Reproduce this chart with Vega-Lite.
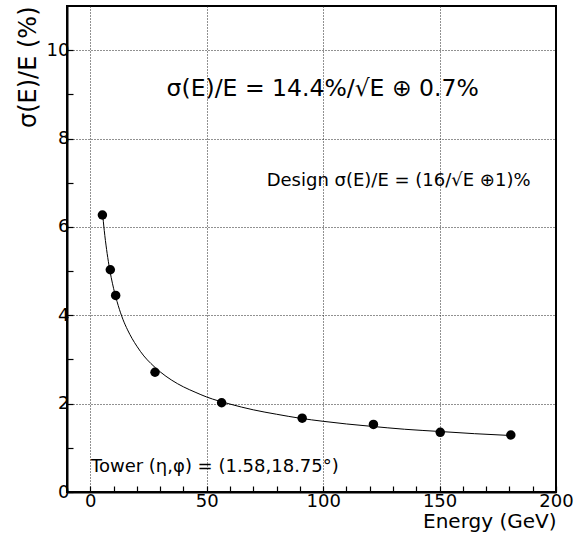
{
  "$schema": "https://vega.github.io/schema/vega-lite/v6.json",
  "autosize": {"type": "none"},
  "padding": {"left": 67, "top": 6, "right": 19, "bottom": 54},
  "width": 489,
  "height": 486,
  "background": "white",
  "config": {
    "font": "DejaVu Sans",
    "view": {"stroke": "black", "strokeWidth": 2}
  },
  "datasets": {
    "fit": [
      {"E": 5.2, "v": 6.35}, {"E": 6, "v": 5.92}, {"E": 7, "v": 5.49}, {"E": 8, "v": 5.14},
      {"E": 9, "v": 4.85}, {"E": 10, "v": 4.61}, {"E": 12, "v": 4.22}, {"E": 14, "v": 3.91},
      {"E": 16, "v": 3.67}, {"E": 18, "v": 3.47}, {"E": 20, "v": 3.3}, {"E": 23, "v": 3.08},
      {"E": 26, "v": 2.91}, {"E": 30, "v": 2.72}, {"E": 35, "v": 2.53}, {"E": 40, "v": 2.38},
      {"E": 45, "v": 2.26}, {"E": 50, "v": 2.15}, {"E": 60, "v": 1.99}, {"E": 70, "v": 1.86},
      {"E": 80, "v": 1.76}, {"E": 90, "v": 1.67}, {"E": 100, "v": 1.6}, {"E": 110, "v": 1.54},
      {"E": 120, "v": 1.49}, {"E": 135, "v": 1.42}, {"E": 150, "v": 1.37}, {"E": 165, "v": 1.32},
      {"E": 180, "v": 1.28}
    ],
    "meas": [
      {"E": 5.2, "v": 6.27}, {"E": 8.6, "v": 5.03}, {"E": 10.9, "v": 4.45},
      {"E": 27.8, "v": 2.71}, {"E": 56.4, "v": 2.02}, {"E": 91, "v": 1.67},
      {"E": 121.6, "v": 1.53}, {"E": 150.3, "v": 1.35}, {"E": 180.6, "v": 1.29}
    ],
    "main": [{"E": 99.8, "v": 8.96, "label": "σ(E)/E = 14.4%/√E ⊕ 0.7%"}],
    "design": [{"E": 132.4, "v": 6.93, "label": "Design σ(E)/E = (16/√E ⊕1)%"}],
    "tower": [{"E": 0.3, "v": 0.46, "label": "Tower (η,φ) = (1.58,18.75°)"}]
  },
  "encoding": {
    "x": {
      "field": "E", "type": "quantitative",
      "scale": {"domain": [-10, 200], "nice": false, "zero": false},
      "axis": {
        "title": "Energy (GeV)", "titleAnchor": "end", "titleFont": "DejaVu Sans",
        "titleFontSize": 20, "titleFontWeight": "normal", "titleColor": "black", "titlePadding": 1,
        "values": [0, 10, 20, 30, 40, 50, 60, 70, 80, 90, 100, 110, 120, 130, 140, 150, 160, 170, 180, 190, 200],
        "labelExpr": "datum.value % 50 === 0 ? datum.label : ''",
        "labelFont": "DejaVu Sans", "labelFontSize": 18, "labelColor": "black", "labelPadding": 6,
        "labelFlush": false, "labelOverlap": false,
        "tickSize": -6, "tickColor": "black", "tickWidth": 1.2,
        "grid": true, "gridDash": [1, 2], "gridColor": "#222", "gridWidth": 1,
        "gridOpacity": {"condition": {"test": "datum.value % 50 === 0 && datum.value < 200", "value": 1}, "value": 0},
        "domainColor": "black", "domainWidth": 2
      }
    },
    "y": {
      "field": "v", "type": "quantitative",
      "scale": {"domain": [0, 11], "nice": false, "zero": false},
      "axis": {
        "title": "σ(E)/E (%)", "titleAnchor": "end", "titleFont": "DejaVu Sans",
        "titleFontSize": 24, "titleFontWeight": "normal", "titleColor": "black", "titlePadding": 6,
        "values": [0, 1, 2, 3, 4, 5, 6, 7, 8, 9, 10],
        "labelExpr": "datum.value % 2 === 0 ? datum.label : ''",
        "labelFont": "DejaVu Sans", "labelFontSize": 18, "labelColor": "black", "labelPadding": 4,
        "labelFlush": false, "labelOverlap": false,
        "tickSize": -6, "tickColor": "black", "tickWidth": 1.2,
        "grid": true, "gridDash": [1, 2], "gridColor": "#222", "gridWidth": 1,
        "gridOpacity": {"condition": {"test": "datum.value % 2 === 0 && datum.value > 0", "value": 1}, "value": 0},
        "domainColor": "black", "domainWidth": 2
      }
    }
  },
  "layer": [
    {"data": {"name": "fit"}, "mark": {"type": "line", "color": "black", "strokeWidth": 1, "interpolate": "monotone"}},
    {"data": {"name": "meas"}, "mark": {"type": "point", "filled": true, "color": "black", "opacity": 1, "size": 90}},
    {"data": {"name": "main"}, "mark": {"type": "text", "font": "DejaVu Sans", "fontSize": 23.5, "align": "center", "baseline": "alphabetic", "color": "black"}, "encoding": {"text": {"field": "label"}}},
    {"data": {"name": "design"}, "mark": {"type": "text", "font": "DejaVu Sans", "fontSize": 18, "align": "center", "baseline": "alphabetic", "color": "black"}, "encoding": {"text": {"field": "label"}}},
    {"data": {"name": "tower"}, "mark": {"type": "text", "font": "DejaVu Sans", "fontSize": 18, "align": "left", "baseline": "alphabetic", "color": "black"}, "encoding": {"text": {"field": "label"}}}
  ]
}
